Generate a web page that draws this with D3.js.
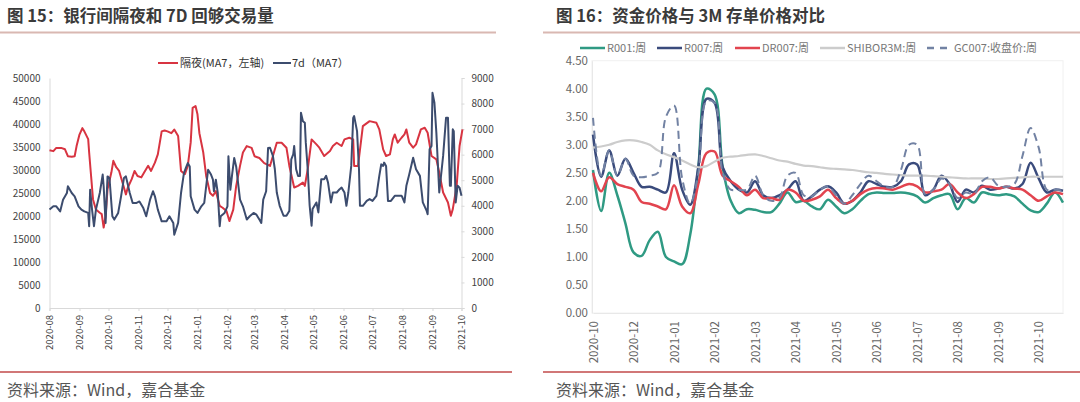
<!DOCTYPE html>
<html><head><meta charset="utf-8">
<script src="https://cdn.jsdelivr.net/npm/d3@7"></script>
<style>
body{margin:0;background:#fff;}
text{font-family:"Noto Sans CJK SC","Noto Sans",sans-serif;}
</style></head><body>
<svg id="c" width="1080" height="402"></svg>
<script>
// ---------- Figure 15 data (daily MA7) ----------
const overnightDates = ["2020-08-01","2020-08-05","2020-08-08","2020-08-13","2020-08-17","2020-08-20","2020-08-24","2020-08-27","2020-08-29","2020-09-01","2020-09-04","2020-09-06","2020-09-10","2020-09-11","2020-09-13","2020-09-15","2020-09-18","2020-09-22","2020-09-24","2020-09-26","2020-09-28","2020-09-30","2020-10-04","2020-10-06","2020-10-09","2020-10-12","2020-10-16","2020-10-19","2020-10-21","2020-10-25","2020-10-28","2020-10-31","2020-11-04","2020-11-07","2020-11-11","2020-11-14","2020-11-18","2020-11-21","2020-11-25","2020-11-28","2020-12-01","2020-12-05","2020-12-08","2020-12-12","2020-12-15","2020-12-19","2020-12-22","2020-12-25","2020-12-27","2020-12-30","2021-01-01","2021-01-03","2021-01-07","2021-01-10","2021-01-14","2021-01-17","2021-01-20","2021-01-24","2021-01-27","2021-01-31","2021-02-03","2021-02-07","2021-02-10","2021-02-14","2021-02-17","2021-02-21","2021-02-26","2021-03-01","2021-03-06","2021-03-11","2021-03-17","2021-03-24","2021-03-29","2021-04-03","2021-04-06","2021-04-11","2021-04-15","2021-04-20","2021-04-22","2021-04-25","2021-04-29","2021-05-04","2021-05-07","2021-05-12","2021-05-18","2021-05-21","2021-05-25","2021-05-30","2021-06-02","2021-06-07","2021-06-11","2021-06-12","2021-06-16","2021-06-21","2021-06-28","2021-07-05","2021-07-08","2021-07-12","2021-07-15","2021-07-19","2021-07-22","2021-07-24","2021-07-27","2021-07-31","2021-08-03","2021-08-05","2021-08-08","2021-08-12","2021-08-15","2021-08-20","2021-08-24","2021-08-27","2021-08-31","2021-09-05","2021-09-08","2021-09-12","2021-09-17","2021-09-20","2021-09-22","2021-09-26","2021-09-29","2021-10-02"];
const overnightVol = [34300,34100,34800,34800,34500,33000,32900,33000,35200,37700,39100,38400,36700,33800,28700,23600,21400,20700,20400,17500,20000,25800,29500,32000,30600,29800,26900,24700,26200,28000,29800,28700,28400,29500,30900,29800,31600,33400,38400,38600,38400,38000,38800,37400,29800,29100,30900,36000,43500,43900,42100,38000,33800,28700,25000,24400,25400,22200,21800,21100,18900,21400,26500,30900,33800,35200,34800,33000,32600,31500,30880,35930,35930,34850,30880,26190,26550,27270,26550,30160,36650,35570,34850,33040,34130,35210,35930,35210,36650,37010,36650,30880,30880,39540,40620,40260,38820,34490,33040,33400,36650,37730,35930,37010,37730,38820,35930,34850,35570,38820,39180,38100,33040,32320,29440,25110,22940,20060,21500,26550,35210,38820];
const repo7dDates = ["2020-08-01","2020-08-05","2020-08-08","2020-08-12","2020-08-15","2020-08-19","2020-08-20","2020-08-24","2020-08-27","2020-08-31","2020-09-03","2020-09-06","2020-09-10","2020-09-11","2020-09-12","2020-09-14","2020-09-16","2020-09-18","2020-09-22","2020-09-25","2020-09-26","2020-09-28","2020-09-30","2020-10-02","2020-10-05","2020-10-07","2020-10-11","2020-10-14","2020-10-17","2020-10-19","2020-10-23","2020-10-26","2020-10-30","2020-11-02","2020-11-06","2020-11-09","2020-11-13","2020-11-16","2020-11-18","2020-11-21","2020-11-25","2020-11-30","2020-12-03","2020-12-07","2020-12-08","2020-12-12","2020-12-15","2020-12-18","2020-12-20","2020-12-22","2020-12-24","2020-12-25","2020-12-29","2021-01-01","2021-01-05","2021-01-08","2021-01-12","2021-01-15","2021-01-17","2021-01-18","2021-01-20","2021-01-22","2021-01-24","2021-01-25","2021-01-29","2021-02-01","2021-02-02","2021-02-04","2021-02-06","2021-02-08","2021-02-10","2021-02-14","2021-02-17","2021-02-21","2021-02-24","2021-02-28","2021-03-03","2021-03-06","2021-03-08","2021-03-10","2021-03-13","2021-03-15","2021-03-17","2021-03-20","2021-03-22","2021-03-24","2021-03-27","2021-03-31","2021-04-03","2021-04-05","2021-04-06","2021-04-08","2021-04-10","2021-04-11","2021-04-13","2021-04-15","2021-04-17","2021-04-18","2021-04-20","2021-04-22","2021-04-23","2021-04-25","2021-04-27","2021-04-29","2021-04-30","2021-05-04","2021-05-06","2021-05-09","2021-05-12","2021-05-14","2021-05-16","2021-05-19","2021-05-21","2021-05-25","2021-05-28","2021-05-30","2021-06-02","2021-06-04","2021-06-06","2021-06-09","2021-06-11","2021-06-12","2021-06-15","2021-06-17","2021-06-18","2021-06-21","2021-06-25","2021-06-28","2021-07-01","2021-07-05","2021-07-08","2021-07-10","2021-07-12","2021-07-13","2021-07-15","2021-07-17","2021-07-20","2021-07-24","2021-07-27","2021-07-31","2021-08-01","2021-08-03","2021-08-05","2021-08-08","2021-08-12","2021-08-15","2021-08-19","2021-08-22","2021-08-26","2021-08-27","2021-08-29","2021-08-31","2021-09-01","2021-09-03","2021-09-05","2021-09-07","2021-09-08","2021-09-12","2021-09-15","2021-09-17","2021-09-19","2021-09-20","2021-09-22","2021-09-23","2021-09-25","2021-09-27","2021-09-29","2021-10-01"];
const repo7dVol = [3850,3980,3980,3780,4240,4500,4760,4500,4370,3980,3850,3780,3720,3200,4630,3850,3200,3850,4500,5220,4760,3330,5150,5090,3590,3460,3720,4370,5090,5150,4500,4110,4110,4170,3910,3590,4240,4570,4370,3850,3390,3390,3590,3330,2870,3330,4500,5280,5480,5670,5540,4370,3850,3720,3980,4110,5410,5220,5020,4570,5020,4500,3200,3590,3720,3980,5940,4630,5280,5870,5540,4240,3980,3460,3590,3720,3650,3460,3330,4240,4570,6260,6270,5950,5430,4520,4000,3610,3610,3740,3800,5820,6010,6340,5430,5170,5170,7640,7310,7250,6470,5430,4000,3220,3870,4130,3740,5040,5040,5170,4910,4130,4520,4520,4650,4710,4520,4000,4520,5560,7440,7510,6920,5430,4000,4000,4190,4260,4190,4390,5170,5620,5560,5690,5560,4190,4190,4390,4390,4390,4320,4130,4780,5230,5880,5430,5170,4130,3800,3670,6210,6340,8420,8030,6860,5300,4520,5950,7440,7440,4780,4780,6990,6920,4130,4780,4710,4390];
const leftTicks = [0,5000,10000,15000,20000,25000,30000,35000,40000,45000,50000];
const rightTicks = [0,1000,2000,3000,4000,5000,6000,7000,8000,9000];

// ---------- Figure 16 data (weekly) ----------
const weekTickLabels = ["2020-10","2020-12","2021-01","2021-02","2021-03","2021-04","2021-05","2021-06","2021-07","2021-08","2021-09","2021-10"];
const r001 = [2.55,1.82,2.5,2.1,1.6,1.08,1.02,1.3,1.45,1.0,0.92,0.87,1.4,2.6,4.0,3.9,2.6,2.0,1.78,1.85,1.84,1.8,1.8,1.95,2.15,1.98,2.0,1.9,1.85,2.02,1.9,1.78,1.85,2.0,2.12,2.15,2.14,2.14,2.15,2.13,2.08,1.97,2.05,2.1,2.12,1.85,2.05,1.97,2.15,2.12,2.1,2.12,2.08,1.95,1.83,1.8,1.95,2.15,1.97];
const r007 = [3.18,2.43,2.9,2.45,2.75,2.5,2.25,2.25,2.2,2.15,2.85,2.2,1.93,2.6,3.82,3.75,2.6,2.35,2.2,2.15,2.35,2.1,2.05,2.1,2.2,2.35,2.0,2.08,2.2,2.26,2.15,1.95,2.0,2.15,2.35,2.3,2.25,2.25,2.35,2.65,2.65,2.1,2.2,2.45,2.3,1.98,2.2,2.15,2.27,2.2,2.22,2.25,2.22,2.3,2.68,2.4,2.15,2.2,2.18];
const dr007 = [2.5,2.17,2.42,2.3,2.25,2.2,1.98,1.95,1.9,1.85,2.28,1.9,1.78,2.3,2.85,2.88,2.45,2.35,2.25,2.1,2.2,2.05,2.05,2.02,2.2,2.15,2.0,2.02,2.08,2.2,2.05,1.95,2.0,2.12,2.2,2.23,2.22,2.2,2.25,2.3,2.26,2.15,2.17,2.2,2.3,2.15,2.05,2.12,2.25,2.25,2.22,2.25,2.22,2.2,2.1,2.0,2.08,2.15,2.12];
const shibor3m = [2.95,2.97,3.0,3.05,3.08,3.08,3.05,3.0,2.9,2.83,2.78,2.72,2.65,2.6,2.62,2.7,2.77,2.79,2.8,2.82,2.83,2.8,2.76,2.72,2.7,2.66,2.63,2.62,2.6,2.58,2.57,2.56,2.55,2.53,2.51,2.5,2.48,2.47,2.46,2.45,2.45,2.45,2.44,2.43,2.42,2.41,2.4,2.4,2.4,2.39,2.39,2.4,2.41,2.42,2.43,2.43,2.43,2.43,2.43];
const gc007 = [3.48,2.45,2.9,2.45,2.75,2.45,2.42,2.45,2.5,3.5,3.7,2.4,1.95,2.5,3.78,3.75,2.5,2.2,2.2,2.2,2.45,2.1,2.0,2.05,2.45,2.5,2.1,2.08,2.2,2.26,2.1,1.95,2.1,2.3,2.45,2.35,2.25,2.25,2.55,3.0,3.0,2.12,2.2,2.4,2.3,2.05,2.15,2.12,2.35,2.42,2.27,2.25,2.3,2.8,3.3,2.95,2.2,2.2,2.18];
const rateTicks = [0,0.5,1,1.5,2,2.5,3,3.5,4,4.5];

// ---------- drawing ----------
const svg = d3.select("#c");
svg.append("rect").attr("width",1080).attr("height",402).attr("fill","#fff");
const parse = d3.timeParse("%Y-%m-%d");

function title(x, label){
  svg.append("text").attr("x",x).attr("y",22).attr("font-size",16.5).attr("font-weight",700)
    .attr("fill","#3a3a3a").text(label);
}
title(7,"图 15：银行间隔夜和 7D 回够交易量");
title(556,"图 16：资金价格与 3M 存单价格对比");
svg.append("line").attr("x1",0).attr("x2",496).attr("y1",32.5).attr("y2",32.5).attr("stroke","#d9b8b2").attr("stroke-width",2);
svg.append("line").attr("x1",543).attr("x2",1080).attr("y1",32.5).attr("y2",32.5).attr("stroke","#d9b8b2").attr("stroke-width",2);
svg.append("line").attr("x1",0).attr("x2",512).attr("y1",372).attr("y2",372).attr("stroke","#c24a4a").attr("stroke-width",1.5);
svg.append("line").attr("x1",543).attr("x2",1080).attr("y1",372).attr("y2",372).attr("stroke","#c24a4a").attr("stroke-width",1.5);
svg.append("text").attr("x",7).attr("y",396).attr("font-size",16).attr("fill","#555").text("资料来源：Wind，嘉合基金");
svg.append("text").attr("x",556).attr("y",396).attr("font-size",16).attr("fill","#555").text("资料来源：Wind，嘉合基金");

// ---------- left chart ----------
const xL = d3.scaleTime().domain([new Date(2020,7,1), new Date(2021,9,1)]).range([49.5,461.5]);
const yL = d3.scaleLinear().domain([0,50000]).range([308,78]);
const yR = d3.scaleLinear().domain([0,9000]).range([308,78]);
const gL = svg.append("g");

const axL = gL.append("g").attr("transform","translate(49.5,0)")
  .call(d3.axisLeft(yL).tickValues(leftTicks).tickSize(0).tickPadding(9).tickFormat(d3.format("d")));
const axR = gL.append("g").attr("transform","translate(461.5,0)")
  .call(d3.axisRight(yR).tickValues(rightTicks).tickSize(3).tickPadding(7).tickFormat(d3.format("d")));
const axB = gL.append("g").attr("transform","translate(0,308)")
  .call(d3.axisBottom(xL).ticks(d3.timeMonth.every(1)).tickSize(3).tickFormat(d3.timeFormat("%Y-%m")));
[axL,axR,axB].forEach(a=>{
  a.select(".domain").attr("stroke","#d9d9d9");
  a.selectAll(".tick line").attr("stroke","#d9d9d9");
  a.selectAll("text").attr("fill","#444").attr("font-size",10).attr("font-family","Liberation Sans, Arial, sans-serif");
});
axB.selectAll("text").attr("transform","rotate(-90)").attr("text-anchor","end")
  .attr("x",-7).attr("y",0).attr("dy","0.35em").attr("font-size",9.5);

const ovData = overnightDates.map((d,i)=>({d:parse(d),v:overnightVol[i]}));
const r7Data = repo7dDates.map((d,i)=>({d:parse(d),v:repo7dVol[i]}));
gL.append("path").datum(ovData).attr("fill","none").attr("stroke","#d83441").attr("stroke-width",2).attr("stroke-linejoin","round")
  .attr("d",d3.line().x(p=>xL(p.d)).y(p=>yL(p.v)));
gL.append("path").datum(r7Data).attr("fill","none").attr("stroke","#3c4c6e").attr("stroke-width",2).attr("stroke-linejoin","round")
  .attr("d",d3.line().x(p=>xL(p.d)).y(p=>yR(p.v)));

gL.append("line").attr("x1",158).attr("x2",178).attr("y1",63).attr("y2",63).attr("stroke","#d83441").attr("stroke-width",2);
gL.append("text").attr("x",180).attr("y",67).attr("font-size",11).attr("fill","#333").text("隔夜(MA7，左轴)");
gL.append("line").attr("x1",273).attr("x2",291).attr("y1",63).attr("y2",63).attr("stroke","#3c4c6e").attr("stroke-width",2);
gL.append("text").attr("x",292).attr("y",67).attr("font-size",11).attr("fill","#333").text("7d（MA7）");

// ---------- right chart ----------
const xI = d3.scaleLinear().domain([0, r001.length-1]).range([593,1063]);
const yP = d3.scaleLinear().domain([0,4.5]).range([313,60.7]);
const gR = svg.append("g");
gR.append("rect").attr("x",592).attr("y",60.7).attr("width",471).attr("height",252.3).attr("fill","none").attr("stroke","#f0f0f0");
const ayP = gR.append("g").attr("transform","translate(592,0)")
  .call(d3.axisLeft(yP).tickValues(rateTicks).tickSize(0).tickPadding(4).tickFormat(d3.format(".2f")));
const tickIdx = weekTickLabels.map((l,i)=>i*5);
const axP = gR.append("g").attr("transform","translate(0,313)")
  .call(d3.axisBottom(xI).tickValues(tickIdx).tickSize(0).tickFormat((d,i)=>weekTickLabels[i]));
[ayP,axP].forEach(a=>{
  a.select(".domain").attr("stroke","#e8e8e8");
  a.selectAll("text").attr("fill","#666").attr("font-size",11.5).attr("font-family","Open Sans, Liberation Sans, sans-serif");
});
axP.selectAll("text").attr("transform","rotate(-90)").attr("text-anchor","end")
  .attr("x",-8).attr("y",0).attr("dy","0.35em");

const series = [
  {name:"R001:周", vals:r001, color:"#2f9a83", w:2.5, dash:null},
  {name:"R007:周", vals:r007, color:"#3a4b7c", w:2.5, dash:null},
  {name:"DR007:周", vals:dr007, color:"#e2444f", w:2.5, dash:null},
  {name:"SHIBOR3M:周", vals:shibor3m, color:"#cccccc", w:2.2, dash:null},
  {name:"GC007:收盘价:周", vals:gc007, color:"#7282a3", w:2, dash:"8,5"}
];
const lineP = d3.line().x((v,i)=>xI(i)).y(v=>yP(v)).curve(d3.curveCatmullRom.alpha(0.5));
series.forEach(s=>{
  gR.append("path").datum(s.vals).attr("fill","none").attr("stroke",s.color).attr("stroke-width",s.w)
    .attr("stroke-dasharray",s.dash).attr("stroke-linejoin","round").attr("d",lineP);
});
const legX = [580,657,735,820,927];
series.forEach((s,i)=>{
  gR.append("line").attr("x1",legX[i]).attr("x2",legX[i]+25).attr("y1",48).attr("y2",48)
    .attr("stroke",s.color).attr("stroke-width",2.5).attr("stroke-dasharray",s.dash?"7,6":null);
  gR.append("text").attr("x",legX[i]+27).attr("y",52).attr("font-size",11).attr("fill","#777")
    .attr("font-family","Liberation Sans, Noto Sans CJK SC, sans-serif").text(s.name);
});
</script>
</body></html>
